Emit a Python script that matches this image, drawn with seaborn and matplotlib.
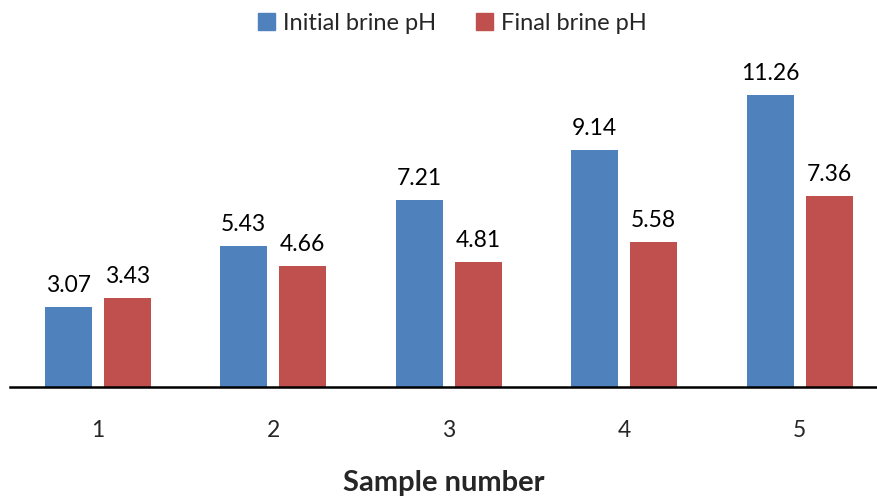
import matplotlib
matplotlib.use("Agg")
import matplotlib.pyplot as plt
import seaborn as sns
import pandas as pd

samples = ["1", "2", "3", "4", "5"]
initial_ph = [3.07, 5.43, 7.21, 9.14, 11.26]
final_ph = [3.43, 4.66, 4.81, 5.58, 7.36]
series_names = ["Initial brine pH", "Final brine pH"]
colors = ["#4F81BD", "#C0504D"]

df = pd.DataFrame({
    "sample": samples * 2,
    "pH": initial_ph + final_ph,
    "series": [series_names[0]] * len(samples) + [series_names[1]] * len(samples),
})

sns.set_theme(style="white")
plt.rcParams["font.family"] = ["Lato", "DejaVu Sans"]

fig = plt.figure(figsize=(8.77, 4.97), dpi=100)
ax = fig.add_axes([10 / 877, 1 - 387 / 497, 1 - 10 / 877, (387 - 76) / 497])

sns.barplot(data=df, x="sample", y="pH", hue="series", palette=colors,
            width=0.673, gap=0.2, ax=ax, saturation=1, edgecolor="none",
            legend=True)

for container in ax.containers:
    for bar in container:
        h = bar.get_height()
        ax.annotate(f"{h:.2f}", (bar.get_x() + bar.get_width() / 2, h),
                    xytext=(0, 8), textcoords="offset points",
                    ha="center", va="bottom", fontsize=16.5, color="#000000")

ax.set_xlim(-0.5, 4.44)
ax.set_ylim(0, 12)
ax.set_yticks([])
ax.set_ylabel("")
ax.set_xlabel("Sample number", fontsize=21, fontweight="bold", labelpad=21)
ax.tick_params(axis="x", length=0, pad=24, labelsize=16.5)
for s in ["top", "right", "left"]:
    ax.spines[s].set_visible(False)
ax.spines["bottom"].set_color("black")
ax.spines["bottom"].set_linewidth(1.8)

ax.legend_.remove()
handles = [plt.Rectangle((0, 0), 1, 1, color=c) for c in colors]
fig.legend(handles, series_names, loc="center", bbox_to_anchor=(0.516, 0.953),
           ncol=2, frameon=False, fontsize=17, handlelength=0.7,
           handleheight=0.7, handletextpad=0.35, columnspacing=1.7)

fig.savefig("out.png", dpi=100)
